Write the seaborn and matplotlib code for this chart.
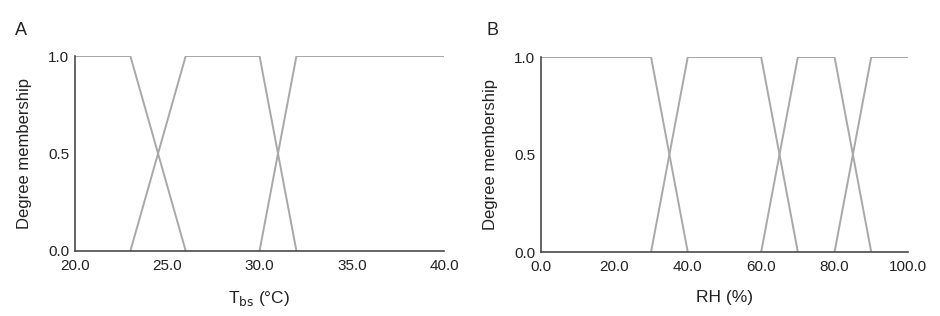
import matplotlib
matplotlib.use("Agg")
import matplotlib.pyplot as plt
import seaborn as sns
import pandas as pd

sns.set_theme(style="white")
plt.rcParams['font.family'] = ['Liberation Sans', 'DejaVu Sans']

# Panel A: dry-bulb temperature membership functions
tbs_sets = {
    "low":    ([20, 23, 26],         [1, 1, 0]),
    "medium": ([23, 26, 30, 32],     [0, 1, 1, 0]),
    "high":   ([30, 32, 40],         [0, 1, 1]),
}
tbs_ticks = [20.0, 25.0, 30.0, 35.0, 40.0]

# Panel B: relative humidity membership functions
rh_sets = {
    "low":       ([0, 30, 40],        [1, 1, 0]),
    "medium":    ([30, 40, 60, 70],   [0, 1, 1, 0]),
    "high":      ([60, 70, 80, 90],   [0, 1, 1, 0]),
    "very high": ([80, 90, 100],      [0, 1, 1]),
}
rh_ticks = [0.0, 20.0, 40.0, 60.0, 80.0, 100.0]
y_ticks = [0.0, 0.5, 1.0]

line_color = "#a8a8a8"
axis_color = "#4a4a4a"

def to_df(sets):
    rows = []
    for name, (xs, ys) in sets.items():
        for x, y in zip(xs, ys):
            rows.append({"set": name, "x": x, "y": y})
    return pd.DataFrame(rows)

fig = plt.figure(figsize=(9.4, 3.16), dpi=100)
axA = fig.add_axes([0.0798, 0.2057, 0.3926, 0.617])
axB = fig.add_axes([0.5755, 0.2025, 0.3904, 0.617])

panels = [
    (axA, tbs_sets, tbs_ticks, (20, 40), "T$_{\\mathrm{bs}}$ (°C)", "A", 0.016),
    (axB, rh_sets, rh_ticks, (0, 100), "RH (%)", "B", 0.518),
]

for ax, sets, xticks, xlim, xlabel, letter, lx in panels:
    df = to_df(sets)
    sns.lineplot(data=df, x="x", y="y", units="set", estimator=None,
                 color=line_color, linewidth=1.4, ax=ax, sort=False)
    ax.set_xlim(*xlim)
    ax.set_ylim(0, 1.0)
    ax.set_xticks(xticks)
    ax.set_xticklabels([f"{t:.1f}" for t in xticks])
    ax.set_yticks(y_ticks)
    ax.set_yticklabels([f"{t:.1f}" for t in y_ticks])
    ax.set_xlabel(xlabel, fontsize=12.5, color="#222222", labelpad=11)
    ax.set_ylabel("Degree membership", fontsize=12, color="#222222", labelpad=12)
    for s in ["top", "right"]:
        ax.spines[s].set_visible(False)
    for s in ["left", "bottom"]:
        ax.spines[s].set_color(axis_color)
        ax.spines[s].set_linewidth(1.2)
    ax.tick_params(axis="x", direction="in", length=3, width=1, color=axis_color,
                   labelsize=11, labelcolor="#222222", pad=6)
    ax.tick_params(axis="y", direction="out", length=3, width=1, color=axis_color,
                   labelsize=11, labelcolor="#222222", pad=1)
    ax.set_facecolor("white")
    fig.text(lx, 0.905, letter, fontsize=13, color="#222222", ha="left", va="center")

fig.savefig("out.png", dpi=100, facecolor="white")
